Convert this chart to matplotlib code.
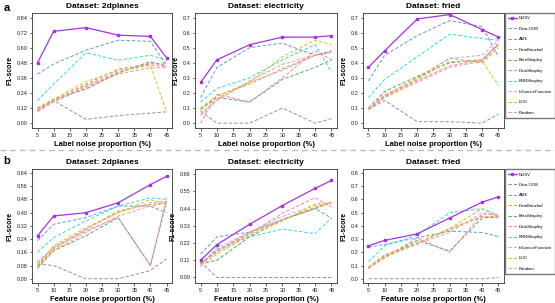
import matplotlib
matplotlib.use('Agg')
import matplotlib.pyplot as plt
from matplotlib.lines import Line2D

x = [5, 10, 20, 30, 40, 45]
methods = ['NDSV', 'Data-OOB', 'AME', 'DataBanzhaf', 'BetaShapley', 'DataShapley',
           'KNNShapley', 'InfluenceFunction', 'LOO', 'Random']
colors = ['#a633e6', '#5b9bd5', '#8c8cbf', '#c9a23c', '#4caf50', '#ff77c8',
          '#33d6e6', '#d4a6c8', '#d4c41a', '#ff9a70']

# row a: label noise
label_2dplanes = [
    [0.48, 0.73, 0.76, 0.70, 0.69, 0.52],
    [0.39, 0.47, 0.58, 0.66, 0.65, 0.46],
    [0.10, 0.18, 0.03, 0.06, 0.08, 0.09],
    [0.11, 0.18, 0.31, 0.43, 0.47, 0.48],
    [0.12, 0.19, 0.27, 0.40, 0.49, 0.45],
    [0.10, 0.17, 0.29, 0.40, 0.48, 0.46],
    [0.18, 0.31, 0.56, 0.50, 0.54, 0.50],
    [0.11, 0.18, 0.30, 0.41, 0.46, 0.45],
    [0.12, 0.19, 0.33, 0.42, 0.46, 0.09],
    [0.09, 0.17, 0.28, 0.39, 0.44, 0.44],
]
label_electricity = [
    [0.27, 0.42, 0.52, 0.57, 0.57, 0.58],
    [0.17, 0.37, 0.50, 0.53, 0.45, 0.48],
    [0.08, 0.00, 0.00, 0.10, 0.00, 0.03],
    [0.10, 0.18, 0.26, 0.36, 0.45, 0.47],
    [0.09, 0.17, 0.14, 0.29, 0.37, 0.42],
    [0.00, 0.19, 0.14, 0.30, 0.48, 0.42],
    [0.14, 0.23, 0.30, 0.42, 0.52, 0.34],
    [0.06, 0.16, 0.27, 0.35, 0.45, 0.47],
    [0.09, 0.18, 0.27, 0.44, 0.55, 0.52],
    [0.05, 0.15, 0.28, 0.39, 0.45, 0.47],
]
label_fried = [
    [0.37, 0.48, 0.69, 0.72, 0.62, 0.57],
    [0.28, 0.45, 0.58, 0.68, 0.64, 0.44],
    [0.09, 0.15, 0.01, 0.01, 0.00, 0.06],
    [0.09, 0.18, 0.30, 0.43, 0.40, 0.50],
    [0.10, 0.21, 0.31, 0.40, 0.42, 0.52],
    [0.10, 0.18, 0.28, 0.38, 0.42, 0.53],
    [0.17, 0.29, 0.44, 0.59, 0.56, 0.55],
    [0.10, 0.19, 0.29, 0.43, 0.45, 0.55],
    [0.09, 0.17, 0.29, 0.41, 0.41, 0.25],
    [0.09, 0.17, 0.27, 0.37, 0.41, 0.52],
]

# row b: feature noise
feature_2dplanes = [
    [0.26, 0.38, 0.40, 0.46, 0.57, 0.62],
    [0.23, 0.33, 0.37, 0.44, 0.44, 0.40],
    [0.09, 0.08, 0.00, 0.00, 0.05, 0.12],
    [0.08, 0.18, 0.30, 0.41, 0.45, 0.46],
    [0.07, 0.17, 0.26, 0.37, 0.08, 0.47],
    [0.10, 0.19, 0.29, 0.37, 0.08, 0.49],
    [0.16, 0.25, 0.35, 0.44, 0.49, 0.48],
    [0.09, 0.19, 0.30, 0.40, 0.46, 0.47],
    [0.08, 0.20, 0.31, 0.40, 0.48, 0.45],
    [0.06, 0.17, 0.28, 0.38, 0.44, 0.46],
]
feature_electricity = [
    [0.11, 0.21, 0.34, 0.46, 0.57, 0.62],
    [0.15, 0.26, 0.29, 0.37, 0.44, 0.38],
    [0.10, 0.00, 0.00, 0.00, 0.00, 0.00],
    [0.09, 0.17, 0.29, 0.37, 0.45, 0.48],
    [0.09, 0.11, 0.26, 0.37, 0.44, 0.48],
    [0.08, 0.17, 0.28, 0.41, 0.51, 0.45],
    [0.09, 0.18, 0.26, 0.31, 0.28, 0.38],
    [0.08, 0.19, 0.29, 0.39, 0.46, 0.47],
    [0.07, 0.15, 0.27, 0.36, 0.47, 0.48],
    [0.09, 0.16, 0.28, 0.37, 0.44, 0.48],
]
feature_fried = [
    [0.25, 0.29, 0.34, 0.46, 0.58, 0.62],
    [0.24, 0.26, 0.31, 0.36, 0.35, 0.32],
    [0.00, 0.00, 0.00, 0.00, 0.00, 0.01],
    [0.09, 0.18, 0.27, 0.38, 0.47, 0.46],
    [0.08, 0.17, 0.29, 0.21, 0.46, 0.47],
    [0.08, 0.16, 0.31, 0.20, 0.49, 0.48],
    [0.13, 0.25, 0.33, 0.50, 0.53, 0.48],
    [0.08, 0.17, 0.26, 0.35, 0.50, 0.48],
    [0.08, 0.17, 0.27, 0.38, 0.53, 0.47],
    [0.08, 0.16, 0.27, 0.37, 0.47, 0.47],
]

yticks = {
    'a0': [0.00, 0.12, 0.24, 0.36, 0.48, 0.60, 0.72, 0.84],
    'a1': [0.0, 0.1, 0.2, 0.3, 0.4, 0.5, 0.6, 0.7],
    'a2': [0.0, 0.1, 0.2, 0.3, 0.4, 0.5, 0.6, 0.7],
    'b0': [0.00, 0.08, 0.16, 0.24, 0.32, 0.40, 0.48, 0.56, 0.64],
    'b1': [0.00, 0.11, 0.22, 0.33, 0.44, 0.55, 0.66],
    'b2': [0.0, 0.1, 0.2, 0.3, 0.4, 0.5, 0.6, 0.7, 0.8],
}
tick_fmt = {'a0': '%.2f', 'a1': '%.1f', 'a2': '%.1f', 'b0': '%.2f', 'b1': '%.2f', 'b2': '%.1f'}

plt.rcParams['font.family'] = ['Liberation Sans', 'DejaVu Sans']


def draw_panel(ax, data, title, xlabel, key, legend=False):
    for i, name in enumerate(methods):
        if name == 'NDSV':
            ax.plot(x, data[i], color=colors[i], lw=0.9, marker='s', ms=1.6, label=name, zorder=5)
        else:
            ax.plot(x, data[i], color=colors[i], lw=0.7, ls=(0, (3.5, 2)), label=name)
    ticks = yticks[key]
    step = ticks[1] - ticks[0]
    ax.set_ylim(ticks[0] - step * 0.32, ticks[-1] + step * 0.3)
    ax.set_yticks(ticks)
    ax.set_yticklabels([tick_fmt[key] % t for t in ticks])
    ax.set_xlim(3.3, 46.7)
    ax.set_xticks([5, 10, 15, 20, 25, 30, 35, 40, 45])
    ax.tick_params(labelsize=4, length=1.8, width=0.5, pad=1.5, colors='#222222')
    for s in ax.spines.values():
        s.set_linewidth(0.6)
        s.set_color('#333333')
    ax.set_title(title, fontsize=6, fontweight='bold', pad=3.5)
    ax.set_xlabel(xlabel, fontsize=5.5, fontweight='bold', labelpad=2.5)
    ax.set_ylabel('F1-score', fontsize=5, fontweight='bold', labelpad=2)
    if legend:
        ax.legend(loc='upper left', bbox_to_anchor=(1.004, 1.0), borderaxespad=0,
                  fontsize=3.1, handlelength=2.0, handletextpad=0.45, labelspacing=1.5,
                  frameon=True, fancybox=False, edgecolor='#555555', borderpad=0.8)


fig = plt.figure(figsize=(5.55, 3.03), dpi=100)
lefts = [0.0577, 0.3514, 0.654]
widths = [0.2523, 0.2559, 0.254]
names = ['2dplanes', 'electricity', 'fried']
row_a = [label_2dplanes, label_electricity, label_fried]
row_b = [feature_2dplanes, feature_electricity, feature_fried]

for j in range(3):
    ax = fig.add_axes([lefts[j], 0.5776, widths[j], 0.3795])
    draw_panel(ax, row_a[j], 'Dataset: ' + names[j], 'Label noise proportion (%)', 'a%d' % j, legend=(j == 2))
    ax = fig.add_axes([lefts[j], 0.066, widths[j], 0.376])
    draw_panel(ax, row_b[j], 'Dataset: ' + names[j], 'Feature noise proportion (%)', 'b%d' % j, legend=(j == 2))

fig.text(0.006, 0.975, 'a', fontsize=8, fontweight='bold', va='center')
fig.text(0.006, 0.47, 'b', fontsize=8, fontweight='bold', va='center')
fig.add_artist(Line2D([0, 1], [0.505, 0.505], color='#bbbbbb', lw=1.0, ls=(0, (4, 3))))

fig.savefig('out.png', dpi=100)
